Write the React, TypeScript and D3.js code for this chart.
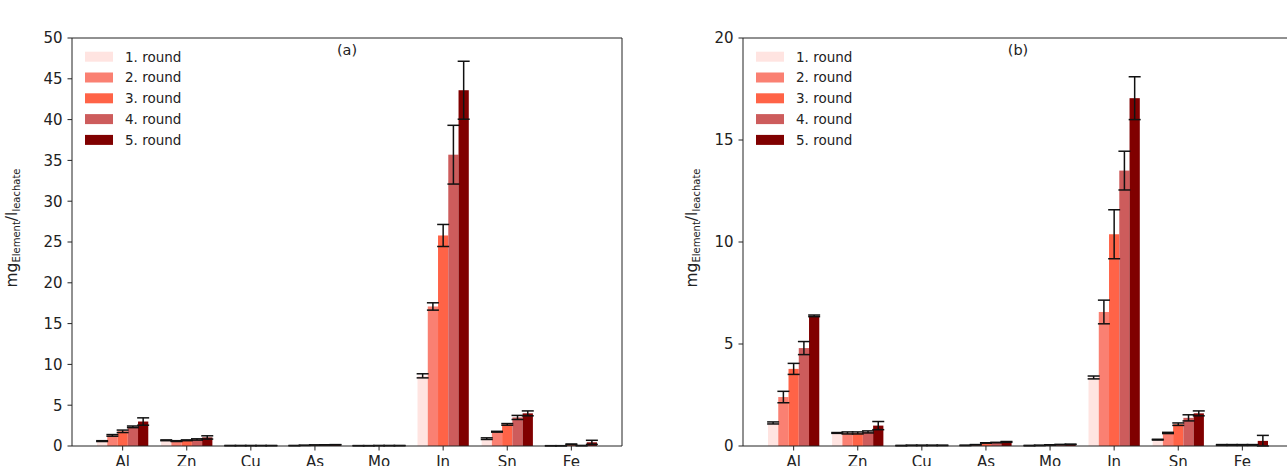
import React from "react";
import * as d3 from "d3";

const elements = ["Al", "Zn", "Cu", "As", "Mo", "In", "Sn", "Fe"];
const rounds = ["1. round", "2. round", "3. round", "4. round", "5. round"];
const roundColors = ["#ffe4e1", "#fa8072", "#ff6347", "#cd5c5c", "#800000"];

// Panel (a) means per round
const aRound1 = [0.6, 0.7, 0.05, 0.05, 0.04, 8.6, 0.9, 0.03];
const aRound2 = [1.3, 0.6, 0.05, 0.08, 0.04, 17.1, 1.75, 0.03];
const aRound3 = [1.8, 0.7, 0.05, 0.12, 0.05, 25.8, 2.65, 0.2];
const aRound4 = [2.35, 0.8, 0.05, 0.13, 0.05, 35.7, 3.5, 0.05];
const aRound5 = [3.0, 1.05, 0.05, 0.15, 0.05, 43.6, 4.0, 0.45];
// Panel (a) errors per round
const aErr1 = [0.05, 0.05, 0.01, 0.01, 0.01, 0.25, 0.1, 0.01];
const aErr2 = [0.1, 0.05, 0.01, 0.01, 0.01, 0.45, 0.05, 0.01];
const aErr3 = [0.15, 0.05, 0.01, 0.01, 0.01, 1.35, 0.1, 0.05];
const aErr4 = [0.1, 0.08, 0.01, 0.02, 0.01, 3.6, 0.25, 0.02];
const aErr5 = [0.45, 0.2, 0.01, 0.02, 0.01, 3.55, 0.3, 0.25];

// Panel (b) means per round
const bRound1 = [1.13, 0.64, 0.02, 0.03, 0.02, 3.36, 0.31, 0.05];
const bRound2 = [2.4, 0.64, 0.03, 0.06, 0.03, 6.57, 0.64, 0.05];
const bRound3 = [3.78, 0.64, 0.03, 0.15, 0.05, 10.38, 1.07, 0.05];
const bRound4 = [4.8, 0.69, 0.03, 0.17, 0.07, 13.5, 1.38, 0.05];
const bRound5 = [6.38, 1.0, 0.03, 0.2, 0.08, 17.05, 1.6, 0.25];
// Panel (b) errors per round
const bErr1 = [0.05, 0.02, 0.01, 0.01, 0.01, 0.07, 0.02, 0.02];
const bErr2 = [0.28, 0.05, 0.01, 0.01, 0.01, 0.58, 0.03, 0.02];
const bErr3 = [0.27, 0.05, 0.01, 0.01, 0.01, 1.2, 0.06, 0.02];
const bErr4 = [0.32, 0.05, 0.01, 0.01, 0.01, 0.95, 0.15, 0.02];
const bErr5 = [0.04, 0.2, 0.01, 0.02, 0.01, 1.05, 0.12, 0.27];

const aTicks = [0, 5, 10, 15, 20, 25, 30, 35, 40, 45, 50];
const bTicks = [0, 5, 10, 15, 20];

const FONT = "DejaVu Sans, sans-serif";

type PanelProps = {
  left: number;
  title: string;
  yMax: number;
  ticks: number[];
  means: number[][];
  errs: number[][];
  labelX: number;
};

const TOP = 38;
const BOTTOM = 446;
const WIDTH = 550;

function Panel({ left, title, yMax, ticks, means, errs, labelX }: PanelProps) {
  const x = d3.scaleLinear().domain([-0.79, 7.79]).range([left, left + WIDTH]);
  const y = d3.scaleLinear().domain([0, yMax]).range([BOTTOM, TOP]);
  const bw = 0.16;
  const barPx = x(bw) - x(0);
  const right = left + WIDTH;
  return (
    <g>
      {means.map((series, r) =>
        series.map((v, i) => {
          const cx = i + (r - 2) * bw;
          return (
            <rect
              key={`b${r}-${i}`}
              x={x(cx - bw / 2)}
              y={y(v)}
              width={barPx}
              height={y(0) - y(v)}
              fill={roundColors[r]}
            />
          );
        })
      )}
      {means.map((series, r) =>
        series.map((v, i) => {
          const cx = x(i + (r - 2) * bw);
          const e = errs[r][i];
          const y1 = y(v + e);
          const y2 = y(Math.max(0, v - e));
          return (
            <g key={`e${r}-${i}`} stroke="#111" strokeWidth={1.5}>
              <line x1={cx} x2={cx} y1={y1} y2={y2} />
              <line x1={cx - 6} x2={cx + 6} y1={y1} y2={y1} />
              <line x1={cx - 6} x2={cx + 6} y1={y2} y2={y2} />
            </g>
          );
        })
      )}
      {/* spines */}
      <g stroke="#222" strokeWidth={1} fill="none">
        <line x1={left} x2={left} y1={TOP} y2={BOTTOM} />
        <line x1={right} x2={right} y1={TOP} y2={BOTTOM} />
        <line x1={left} x2={right} y1={TOP} y2={TOP} />
        <line x1={left} x2={right} y1={BOTTOM} y2={BOTTOM} />
      </g>
      {ticks.map((t) => (
        <g key={`yt${t}`}>
          <line x1={left - 4.5} x2={left} y1={y(t)} y2={y(t)} stroke="#222" strokeWidth={1} />
          <text
            x={left - 9.5}
            y={y(t)}
            dy="0.36em"
            textAnchor="end"
            fontSize={15}
            fontFamily={FONT}
            fill="#222"
          >
            {t}
          </text>
        </g>
      ))}
      {elements.map((el, i) => (
        <g key={`xt${el}`}>
          <line x1={x(i)} x2={x(i)} y1={BOTTOM} y2={BOTTOM + 4.5} stroke="#222" strokeWidth={1} />
          <text x={x(i)} y={467} textAnchor="middle" fontSize={15} fontFamily={FONT} fill="#222">
            {el}
          </text>
        </g>
      ))}
      <text
        x={(left + right) / 2}
        y={55}
        textAnchor="middle"
        fontSize={14.5}
        fontFamily={FONT}
        fill="#222"
      >
        {title}
      </text>
      {rounds.map((name, r) => (
        <g key={`lg${r}`}>
          <rect x={left + 13} y={56.7 + r * 20.8 - 5} width={28} height={10} fill={roundColors[r]} />
          <text
            x={left + 53}
            y={56.7 + r * 20.8}
            dy="0.36em"
            fontSize={13.5}
            fontFamily={FONT}
            fill="#222"
          >
            {name}
          </text>
        </g>
      ))}
      <text
        transform={`translate(${labelX},228) rotate(-90)`}
        textAnchor="middle"
        fontFamily={FONT}
        fill="#222"
        fontSize={15.5}
      >
        mg
        <tspan fontSize={10} dy={3}>
          Element
        </tspan>
        <tspan dy={-3}>/l</tspan>
        <tspan fontSize={10} dy={3}>
          leachate
        </tspan>
      </text>
    </g>
  );
}

export default function App() {
  return (
    <svg
      width={1287}
      height={466}
      style={{ position: "absolute", left: 0, top: 0, display: "block", background: "#fff" }}
    >
      <rect x={0} y={0} width={1287} height={466} fill="#fff" />
      <Panel
        left={72}
        title="(a)"
        yMax={50}
        ticks={aTicks}
        means={[aRound1, aRound2, aRound3, aRound4, aRound5]}
        errs={[aErr1, aErr2, aErr3, aErr4, aErr5]}
        labelX={17}
      />
      <Panel
        left={743}
        title="(b)"
        yMax={20}
        ticks={bTicks}
        means={[bRound1, bRound2, bRound3, bRound4, bRound5]}
        errs={[bErr1, bErr2, bErr3, bErr4, bErr5]}
        labelX={697}
      />
    </svg>
  );
}
